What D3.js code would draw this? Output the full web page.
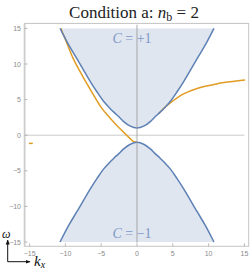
<!DOCTYPE html>
<html>
<head>
<meta charset="utf-8">
<script src="https://cdn.jsdelivr.net/npm/d3@7"></script>
<style>
  body { margin: 0; background: #fff; }
  svg { display: block; }
</style>
</head>
<body>
<div id="chart"></div>
<script>
// band edges (k_x, omega)
const upperK = [-10.75, -9.5, -8.4, -6.5, -5.6, -4.7, -3.8, -3.2, -2.5, -1.9, -1, 0, 1, 1.9, 2.5, 3.2, 3.8, 4.7, 5.6, 6.5, 8.4, 9.5, 10.75]
const upperW = [15, 12.6, 10.75, 7.5, 6.1, 4.8, 3.8, 3.2, 2.55, 1.95, 1.3, 1, 1.3, 1.95, 2.55, 3.2, 3.8, 4.8, 6.1, 7.5, 10.75, 12.6, 15]
const lowerK = [-10.75, -9.5, -8.4, -6.5, -5.6, -4.7, -3.8, -3.2, -2.5, -1.9, -1, 0, 1, 1.9, 2.5, 3.2, 3.8, 4.7, 5.6, 6.5, 8.4, 9.5, 10.75]
const lowerW = [-15, -12.6, -10.75, -7.5, -6.1, -4.8, -3.8, -3.2, -2.55, -1.95, -1.3, -1, -1.3, -1.95, -2.55, -3.2, -3.8, -4.8, -6.1, -7.5, -10.75, -12.6, -15]

// edge mode (orange), two branches + the little dash on the left
const edgeLeftK = [-10.65, -10.06, -8.9, -7.6, -6.33, -4.93, -3.8, -2.84, -2.1, -1.5, -1, -0.5, 0]
const edgeLeftW = [15, 13.6, 10.75, 8.3, 6.1, 3.8, 2.45, 1.4, 0.65, 0.05, -0.45, -0.88, -1.0]
const edgeRightK = [3.0, 3.5, 4.6, 6.5, 8.5, 11.1, 13, 15.1]
const edgeRightW = [3.0, 3.55, 4.5, 5.8, 6.6, 7.2, 7.5, 7.75]
const dashK = [-15.1, -14.55]
const dashW = [-1.15, -1.15]

const ticks = [-15, -10, -5, 0, 5, 10, 15]
const chernUpper = "+1"
const chernLower = "\u22121"

const width = 250, height = 274

const x = d3.scaleLinear().domain([-15, 15]).range([29.6, 244.4])
const y = d3.scaleLinear().domain([-15, 15]).range([242, 28.4])

const frame = {left: x(-15.7), right: x(15.6), top: y(15.7), bottom: y(-15.6)}

const svg = d3.select("#chart").append("svg")
  .attr("width", width)
  .attr("height", height)

const zip = (ks, ws) => ks.map((k, i) => [k, ws[i]])

const blue = "#5e81b5", orange = "#e19c24"

// shaded bands
const areaTop = d3.area().x(d => x(d[0])).y0(y(15)).y1(d => y(d[1])).curve(d3.curveCatmullRom)
const areaBot = d3.area().x(d => x(d[0])).y0(y(-15)).y1(d => y(d[1])).curve(d3.curveCatmullRom)
svg.append("path").attr("d", areaTop(zip(upperK, upperW))).attr("fill", "#dfe6f0")
svg.append("path").attr("d", areaBot(zip(lowerK, lowerW))).attr("fill", "#dfe6f0")

// zero line
svg.append("line")
  .attr("x1", frame.left).attr("x2", x(15))
  .attr("y1", y(0)).attr("y2", y(0))
  .attr("stroke", "#cacaca").attr("stroke-width", 1)

// frame
svg.append("rect")
  .attr("x", frame.left).attr("y", frame.top)
  .attr("width", frame.right - frame.left).attr("height", frame.bottom - frame.top)
  .attr("fill", "none").attr("stroke", "#c4c4c4").attr("stroke-width", 1)
svg.append("line")
  .attr("x1", frame.left).attr("x2", frame.left).attr("y1", frame.top).attr("y2", frame.bottom)
  .attr("stroke", "#cdcdcd").attr("stroke-width", 1.8)

// ticks (inward) + labels
const tickFont = "'Liberation Sans', 'DejaVu Sans', sans-serif"
const fmt = d => d < 0 ? "\u2212" + Math.abs(d) : "" + d
svg.selectAll(".xt").data(ticks).join("line")
  .attr("x1", d => x(d)).attr("x2", d => x(d))
  .attr("y1", frame.bottom).attr("y2", frame.bottom - 3)
  .attr("stroke", "#aaa").attr("stroke-width", 0.8)
svg.selectAll(".yt").data(ticks).join("line")
  .attr("x1", frame.left).attr("x2", frame.left + 3)
  .attr("y1", d => y(d)).attr("y2", d => y(d))
  .attr("stroke", "#aaa").attr("stroke-width", 0.8)
svg.selectAll(".xl").data(ticks).join("text")
  .attr("x", d => x(d)).attr("y", 256)
  .attr("text-anchor", "middle")
  .attr("font-family", tickFont).attr("font-size", "7px").attr("fill", "#8a8a8a")
  .text(fmt)
svg.selectAll(".yl").data(ticks).join("text")
  .attr("x", 21).attr("y", d => y(d) + 2.5)
  .attr("text-anchor", "end")
  .attr("font-family", tickFont).attr("font-size", "7px").attr("fill", "#8a8a8a")
  .text(fmt)

// curves
const line = d3.line().x(d => x(d[0])).y(d => y(d[1])).curve(d3.curveCatmullRom)
svg.append("path").attr("d", line(zip(edgeLeftK, edgeLeftW)))
  .attr("fill", "none").attr("stroke", orange).attr("stroke-width", 1.5)
svg.append("path").attr("d", line(zip(edgeRightK, edgeRightW)))
  .attr("fill", "none").attr("stroke", orange).attr("stroke-width", 1.5)
svg.append("path").attr("d", d3.line().x(d => x(d[0])).y(d => y(d[1]))(zip(dashK, dashW)))
  .attr("fill", "none").attr("stroke", orange).attr("stroke-width", 1.5)
svg.append("path").attr("d", line(zip(upperK, upperW)))
  .attr("fill", "none").attr("stroke", blue).attr("stroke-width", 1.5)
svg.append("path").attr("d", line(zip(lowerK, lowerW)))
  .attr("fill", "none").attr("stroke", blue).attr("stroke-width", 1.5)

// Chern number labels
const serif = "'Liberation Serif', 'DejaVu Serif', serif"
function chern(yPos, val) {
  const t = svg.append("text")
    .attr("x", 132).attr("y", yPos)
    .attr("text-anchor", "middle")
    .attr("font-family", serif).attr("font-size", "14px").attr("fill", "#7f98c8")
  t.append("tspan").attr("font-style", "italic").text("C")
  t.append("tspan").text(" = " + val)
}
chern(43, chernUpper)
chern(238, chernLower)

// vertical k=0 line, drawn over the shading
svg.append("line")
  .attr("x1", x(0)).attr("x2", x(0))
  .attr("y1", y(15.5)).attr("y2", y(-15.1))
  .attr("stroke", "rgba(150,150,150,0.4)").attr("stroke-width", 2)

// title
const title = svg.append("text")
  .attr("x", 134).attr("y", 17.5)
  .attr("text-anchor", "middle")
  .attr("font-family", serif).attr("font-size", "17px").attr("fill", "#222")
title.append("tspan").text("Condition a: ")
title.append("tspan").attr("font-style", "italic").text("n")
title.append("tspan").attr("font-size", "12px").attr("dy", 3).text("b")
title.append("tspan").attr("dy", -3).text(" = 2")

// corner axis arrows
svg.append("defs").append("marker")
  .attr("id", "arr").attr("viewBox", "0 0 10 10")
  .attr("refX", 9).attr("refY", 5)
  .attr("markerWidth", 5).attr("markerHeight", 5)
  .attr("orient", "auto")
  .append("path").attr("d", "M0,1 L10,5 L0,9 z").attr("fill", "#111")
svg.append("path")
  .attr("d", "M7.7,261.7 L7.7,240")
  .attr("stroke", "#111").attr("stroke-width", 1).attr("marker-end", "url(#arr)")
svg.append("path")
  .attr("d", "M7.7,261.7 L30,261.7")
  .attr("stroke", "#111").attr("stroke-width", 1).attr("marker-end", "url(#arr)")
svg.append("text")
  .attr("x", 2).attr("y", 238)
  .attr("font-family", serif).attr("font-size", "12px").attr("font-style", "italic").attr("fill", "#111")
  .text("\u03c9")
const kx = svg.append("text")
  .attr("x", 34).attr("y", 266)
  .attr("font-family", serif).attr("font-size", "15px").attr("font-style", "italic").attr("fill", "#111")
kx.append("tspan").text("k")
kx.append("tspan").attr("font-size", "10px").attr("dy", 1.5).text("x")
</script>
</body>
</html>
